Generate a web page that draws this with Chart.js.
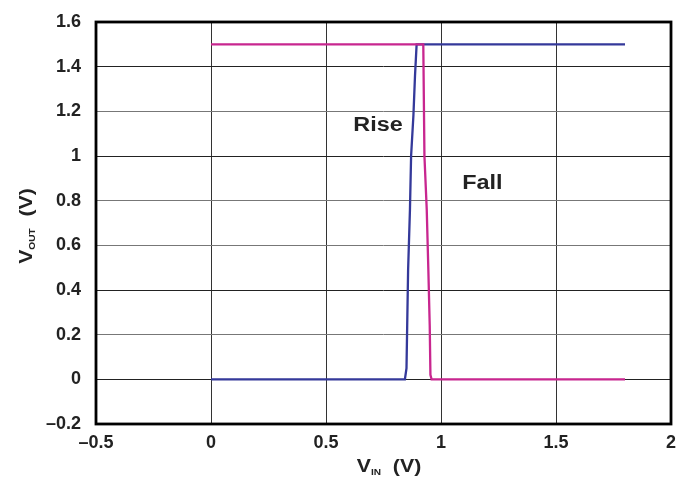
<!DOCTYPE html>
<html><head><meta charset="utf-8">
<script src="https://cdn.jsdelivr.net/npm/chart.js@4"></script>
<style>html,body{margin:0;padding:0;background:#fff}#wrap{width:684px;height:489px}</style>
</head><body><div id="wrap"><canvas id="c"></canvas></div>
<script>
const riseX = [0, 0.5, 0.843, 0.850, 0.853, 0.857, 0.865, 0.870, 0.880, 0.887, 0.894, 1.2, 1.8];
const riseY = [0, 0, 0, 0.05, 0.24, 0.49, 0.76, 1.0, 1.18, 1.36, 1.5, 1.5, 1.5];
const fallX = [0, 0.5, 0.9, 0.923, 0.928, 0.938, 0.945, 0.951, 0.954, 0.959, 1.2, 1.8];
const fallY = [1.5, 1.5, 1.5, 1.5, 1.0, 0.76, 0.49, 0.24, 0.02, 0, 0, 0];
const xTicks = [-0.5, 0, 0.5, 1, 1.5, 2];
const yTicks = [-0.2, 0, 0.2, 0.4, 0.6, 0.8, 1, 1.2, 1.4, 1.6];
const notes = [{text:'Rise', x:0.726, y:1.135}, {text:'Fall', x:1.18, y:0.875}];

const FONT = '"Liberation Sans", Arial, sans-serif';
const fmt = v => { const r = Math.round(v*10)/10; return (r < 0 ? '\u2013' + Math.abs(r) : String(r)); };
const toPts = (xs, ys) => xs.map((x,i)=>({x, y: ys[i]}));

const overlay = {
  id: 'overlay',
  afterDatasetsDraw(chart) {
    const {ctx, scales:{x, y}, chartArea:a} = chart;
    ctx.save();
    ctx.fillStyle = '#222';
    ctx.font = 'bold 20px ' + FONT;
    ctx.textAlign = 'center'; ctx.textBaseline = 'middle';
    notes.forEach(n => {
      ctx.save();
      ctx.translate(x.getPixelForValue(n.x), y.getPixelForValue(n.y));
      ctx.scale(1.17, 1);
      ctx.fillText(n.text, 0, 0);
      ctx.restore();
    });
    ctx.strokeStyle = '#000'; ctx.lineWidth = 2.8;
    ctx.strokeRect(a.left, a.top, a.right - a.left, a.bottom - a.top);
    const drawSub = (main, sub, tail, cx, cy) => {
      ctx.textAlign = 'left'; ctx.textBaseline = 'alphabetic';
      const big = 'bold 19px ' + FONT, small = 'bold 9px ' + FONT;
      ctx.font = big; const w1 = ctx.measureText(main).width;
      ctx.font = small; const w2 = ctx.measureText(sub).width;
      ctx.font = big; const w3 = ctx.measureText(tail).width;
      const total = w1 + w2 + w3; let sx = cx - total/2;
      ctx.fillText(main, sx, cy); sx += w1;
      ctx.font = small; ctx.fillText(sub, sx, cy + 3); sx += w2;
      ctx.font = big; ctx.fillText(tail, sx, cy);
    };
    ctx.fillStyle = '#222';
    ctx.save();
    ctx.translate(389, 472); ctx.scale(1.12, 1);
    drawSub('V', 'IN', '  (V)', 0, 0);
    ctx.restore();
    ctx.translate(32, 226); ctx.rotate(-Math.PI/2); ctx.scale(1.12, 1);
    drawSub('V', 'OUT', '  (V)', 0, 0);
    ctx.restore();
  }
};

new Chart(document.getElementById('c'), {
  type: 'scatter',
  data: { datasets: [
    { label:'Fall', data: toPts(fallX, fallY), showLine:true, borderColor:'#c8268f', borderWidth:2.3, pointRadius:0, tension:0 },
    { label:'Rise', data: toPts(riseX, riseY), showLine:true, borderColor:'#34399a', borderWidth:2.3, pointRadius:0, tension:0 }
  ]},
  options: {
    responsive:true, maintainAspectRatio:false, animation:false,
    layout:{ padding:{ left:0, top:22, right:13, bottom:0 } },
    plugins:{ legend:{display:false}, tooltip:{enabled:false} },
    scales:{
      x:{ type:'linear', min:-0.5, max:2,
        afterBuildTicks: s => { s.ticks = xTicks.map(v=>({value:v})); },
        afterFit: s => { s.height = 65; s.paddingLeft = 0; s.paddingRight = 0; },
        grid:{ color:'#333', lineWidth:1, drawTicks:false },
        border:{ display:false },
        ticks:{ padding:8, color:'#222', font:{family:FONT, size:18, weight:'bold'}, callback: v => fmt(v), maxRotation:0 } },
      y:{ type:'linear', min:-0.2, max:1.6,
        afterBuildTicks: s => { s.ticks = yTicks.map(v=>({value:v})); },
        afterFit: s => { s.width = 96; s.paddingTop = 0; s.paddingBottom = 0; },
        grid:{ color: c => ([0,0.4,1,1.4].some(v=>Math.abs(c.tick.value-v)<1e-6) ? '#222' : '#777'), lineWidth:1, drawTicks:false },
        border:{ display:false },
        ticks:{ padding:15, color:'#222', font:{family:FONT, size:18, weight:'bold'}, callback: v => fmt(v) } }
    }
  },
  plugins:[overlay]
});
</script></body></html>
